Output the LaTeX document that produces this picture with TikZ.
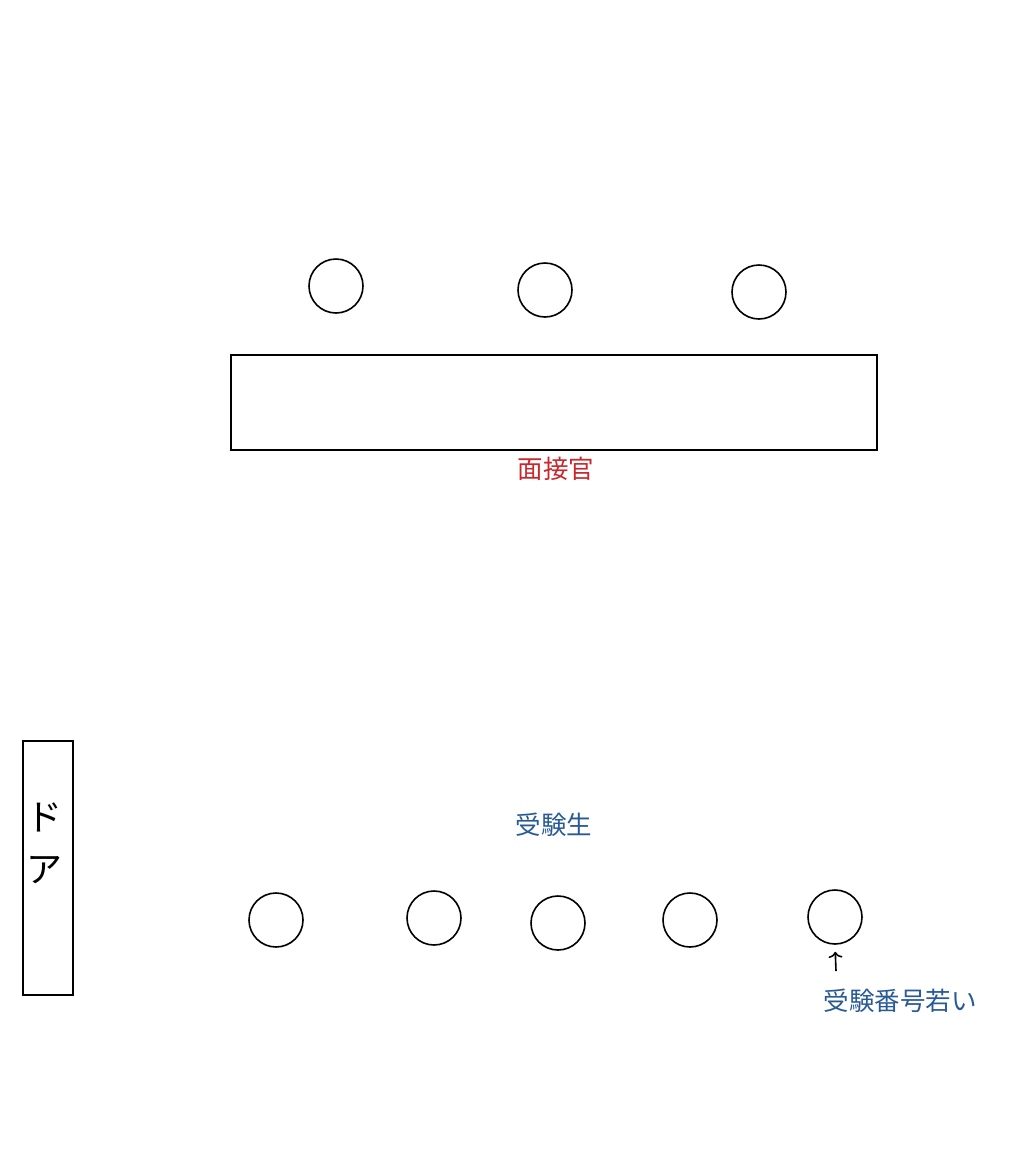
\documentclass[tikz,border=0pt]{standalone}
\usepackage{fontspec}
\usetikzlibrary{arrows.meta}
\newfontfamily\cjk{Noto Sans CJK JP}
\definecolor{tred}{RGB}{200,40,45}
\definecolor{tblue}{RGB}{40,90,150}

\begin{document}
\begin{tikzpicture}[x=1pt,y=-1pt,
	seat/.style={circle,draw,line width=1.6pt,minimum size=54pt,inner sep=0pt},
	lbl/.style={font=\cjk\fontsize{25.5}{30}\selectfont}]
	\useasboundingbox (0,0) rectangle (1028,1168);
	% interviewers
	\node[seat] (i1) at (336,286) {};
	\node[seat] (i2) at (545,290) {};
	\node[seat] (i3) at (759,292) {};
	\draw[line width=1.6pt] (231,355) rectangle (877,450);
	\node[lbl,text=tred] (men) at (556,469) {面接官};
	
	% students
	\node[lbl,text=tblue] (jyu) at (554,825) {受験生};
	\node[seat] (s1) at (276,920) {};
	\node[seat] (s2) at (434,918) {};
	\node[seat] (s3) at (558,923) {};
	\node[seat] (s4) at (690,920) {};
	\node[seat] (s5) at (835,917) {};
	\coordinate (tail) at (836,971);
	\draw[-{To[length=6pt,width=14pt]},line width=1.6pt,shorten >=7pt] (tail) -- (s5.south);
	\node[lbl,text=tblue] (jn) at (900,1001) {受験番号若い};
	
	% door
	\draw[line width=1.6pt] (23,741) rectangle (73,995);
	\node[font=\cjk\fontsize{36}{52}\selectfont,align=center] (door) at (45,843) {ド\\ア};
\end{tikzpicture}
\end{document}
